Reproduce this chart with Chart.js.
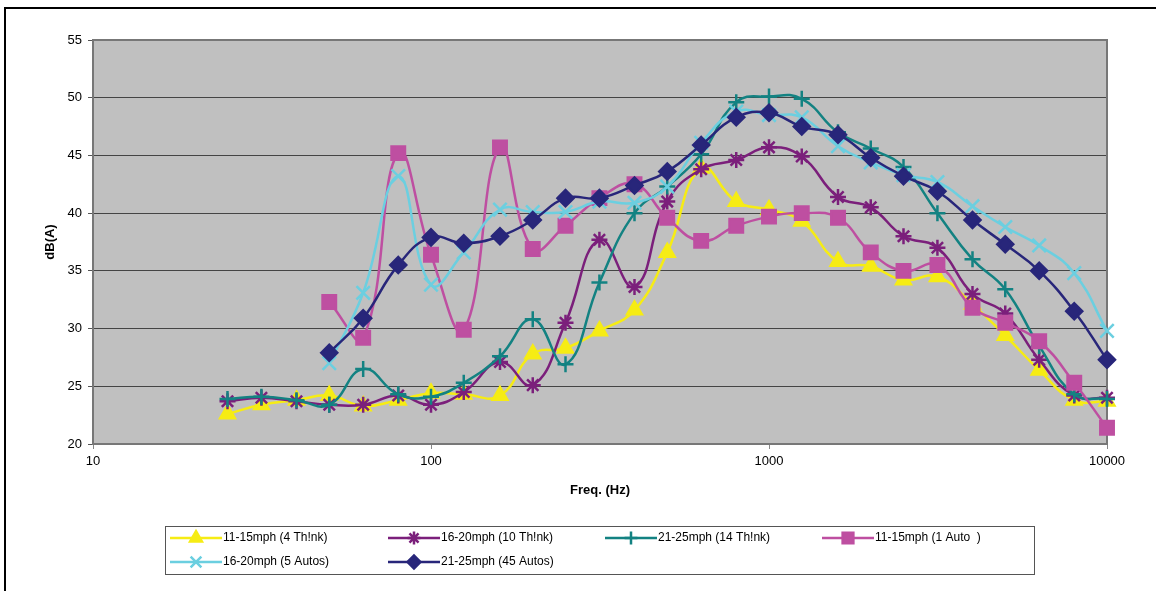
<!DOCTYPE html>
<html>
<head>
<meta charset="utf-8">
<script src="https://cdn.jsdelivr.net/npm/chart.js@4.4.1/dist/chart.umd.min.js"></script>
<style>
  body { margin: 0; background: #fff; }
  canvas { display: block; }
</style>
</head>
<body>
<canvas id="noiseChart" width="1156" height="591"></canvas>
<script>
// third-octave band centre frequencies (Hz)
const freqs = [25, 31.5, 40, 50, 63, 80, 100, 125, 160, 200, 250, 315, 400, 500, 630, 800, 1000, 1250, 1600, 2000, 2500, 3150, 4000, 5000, 6300, 8000, 10000]
const xTicks = [10, 100, 1000, 10000]

// dB(A) per band
const think4_11to15 = [22.6, 23.4, 23.8, 24.2, 23.3, 23.8, 24.4, 24.3, 24.2, 27.8, 28.3, 29.8, 31.6, 36.6, 43.9, 41.0, 40.3, 39.3, 35.8, 35.4, 34.2, 34.5, 32.1, 29.4, 26.4, 23.8, 23.7]
const think10_16to20 = [23.7, 24.0, 23.7, 23.4, 23.4, 24.2, 23.4, 24.5, 27.1, 25.1, 30.5, 37.7, 33.6, 41.0, 43.8, 44.6, 45.7, 44.9, 41.4, 40.5, 38.0, 37.0, 33.0, 31.3, 27.3, 24.2, 24.0]
const think14_21to25 = [23.9, 24.1, 23.8, 23.4, 26.5, 24.3, 24.1, 25.3, 27.6, 30.8, 26.9, 34.0, 40.0, 42.3, 45.1, 49.6, 50.1, 49.9, 47.0, 45.6, 44.0, 40.0, 36.0, 33.4, 28.5, 24.3, 23.9]
const auto1_11to15 = [null, null, null, 32.3, 29.2, 45.2, 36.4, 29.9, 45.7, 36.9, 38.9, 41.3, 42.5, 39.6, 37.6, 38.9, 39.7, 40.0, 39.6, 36.6, 35.0, 35.5, 31.8, 30.5, 28.9, 25.3, 21.4]
const auto5_16to20 = [null, null, null, 27.0, 33.1, 43.2, 33.8, 36.6, 40.3, 40.1, 40.1, 41.0, 40.9, 42.3, 46.1, 48.8, 48.5, 48.3, 45.8, 44.4, 43.3, 42.7, 40.6, 38.8, 37.2, 34.8, 29.8]
const auto45_21to25 = [null, null, null, 27.9, 30.9, 35.5, 37.9, 37.4, 38.0, 39.4, 41.3, 41.3, 42.4, 43.6, 45.9, 48.3, 48.7, 47.5, 46.8, 44.8, 43.2, 41.9, 39.4, 37.3, 35.0, 31.5, 27.3]

const seriesLabels = ['11-15mph (4 Th!nk)', '16-20mph (10 Th!nk)', '21-25mph (14 Th!nk)', '11-15mph (1 Auto  )', '16-20mph (5 Autos)', '21-25mph (45 Autos)']
const seriesValues = [think4_11to15, think10_16to20, think14_21to25, auto1_11to15, auto5_16to20, auto45_21to25]
const seriesColors = ['#F6EC14', '#7B1F7B', '#138282', '#BE4FA1', '#6BCFE0', '#28267A']
const seriesMarkers = ['triangle', 'star', 'cross', 'rect', 'crossRot', 'rectRot']
const markerSizes = [8.5, 8, 8, 9.5, 9.5, 8]

const toPoints = (vals) => freqs
  .map((f, i) => ({ x: f, y: vals[i] }))
  .filter((p) => p.y !== null)

const datasets = seriesValues.map((vals, i) => ({
  label: seriesLabels[i],
  data: toPoints(vals),
  borderColor: seriesColors[i],
  backgroundColor: seriesColors[i],
  pointBackgroundColor: seriesColors[i],
  pointBorderColor: seriesColors[i],
  pointStyle: seriesMarkers[i],
  pointRadius: markerSizes[i],
  pointBorderWidth: 2.5,
  borderWidth: 2.5,
  tension: 0.45,
  clip: false,
  order: seriesValues.length - i, // later series sit on top, like the original
}))

const axisFont = { family: 'Liberation Sans', size: 13 }

const frame = {
  id: 'frame',
  beforeDraw(chart) {
    const { ctx, chartArea: a } = chart
    ctx.save()
    ctx.fillStyle = '#fff'
    ctx.fillRect(0, 0, chart.width, chart.height)
    ctx.fillStyle = '#000'
    ctx.fillRect(4, 7, 2, chart.height - 7)
    ctx.fillRect(4, 7, chart.width - 4, 2)
    ctx.fillStyle = '#C0C0C0'
    ctx.fillRect(a.left, a.top, a.right - a.left, a.bottom - a.top)
    ctx.restore()
  },
  beforeDatasetsDraw(chart) {
    const { ctx, chartArea: a } = chart
    ctx.save()
    ctx.strokeStyle = '#777'
    ctx.lineWidth = 2
    ctx.strokeRect(a.left, a.top, a.right - a.left, a.bottom - a.top)
    ctx.restore()
  },
  afterDraw(chart) {
    const { ctx, chartArea: a } = chart
    ctx.save()
    // axis titles
    ctx.fillStyle = '#000'
    ctx.font = 'bold 13px "Liberation Sans"'
    ctx.textAlign = 'center'
    ctx.textBaseline = 'middle'
    ctx.fillText('Freq. (Hz)', (a.left + a.right) / 2, 490)
    ctx.translate(50, (a.top + a.bottom) / 2)
    ctx.rotate(-Math.PI / 2)
    ctx.fillText('dB(A)', 0, 0)
    ctx.setTransform(1, 0, 0, 1, 0, 0)

    // legend box
    ctx.strokeStyle = '#555'
    ctx.lineWidth = 1
    ctx.strokeRect(165.5, 526.5, 869, 48)
    const colX = [170, 388, 605, 822]
    const rowY = [538, 562]
    ctx.font = '12px "Liberation Sans"'
    ctx.textAlign = 'left'
    seriesLabels.forEach((label, i) => {
      const x0 = colX[i % 4]
      const y = rowY[Math.floor(i / 4)]
      ctx.strokeStyle = seriesColors[i]
      ctx.fillStyle = seriesColors[i]
      ctx.lineWidth = 2.5
      ctx.beginPath()
      ctx.moveTo(x0, y)
      ctx.lineTo(x0 + 52, y)
      ctx.stroke()
      Chart.helpers.drawPoint(ctx, {
        pointStyle: seriesMarkers[i],
        radius: markerSizes[i] * 0.8,
        borderWidth: 2.5,
        rotation: 0,
      }, x0 + 26, y)
      ctx.fillStyle = '#000'
      ctx.fillText(label, x0 + 53, y)
    })
    ctx.restore()
  },
}

new Chart(document.getElementById('noiseChart').getContext('2d'), {
  type: 'line',
  data: { datasets },
  options: {
    responsive: false,
    animation: false,
    layout: { padding: { left: 0, top: 40, right: 49, bottom: 0 } },
    plugins: {
      legend: { display: false },
      tooltip: { enabled: false },
    },
    scales: {
      x: {
        type: 'logarithmic',
        min: 10,
        max: 10000,
        afterBuildTicks: (scale) => { scale.ticks = xTicks.map((v) => ({ value: v })) },
        afterFit: (scale) => { scale.height = 147 },
        ticks: {
          callback: (v) => String(v),
          font: axisFont,
          color: '#000',
          padding: 5,
          maxRotation: 0,
          autoSkip: false,
        },
        grid: { drawOnChartArea: false, drawTicks: true, tickLength: 5, color: '#888' },
        border: { display: false },
      },
      y: {
        min: 20,
        max: 55,
        afterFit: (scale) => { scale.width = 93 },
        ticks: { stepSize: 5, font: axisFont, color: '#000', padding: 6 },
        grid: { color: '#444', lineWidth: 1, tickLength: 5, tickColor: '#555' },
        border: { display: false },
      },
    },
  },
  plugins: [frame],
})
</script>
</body>
</html>
